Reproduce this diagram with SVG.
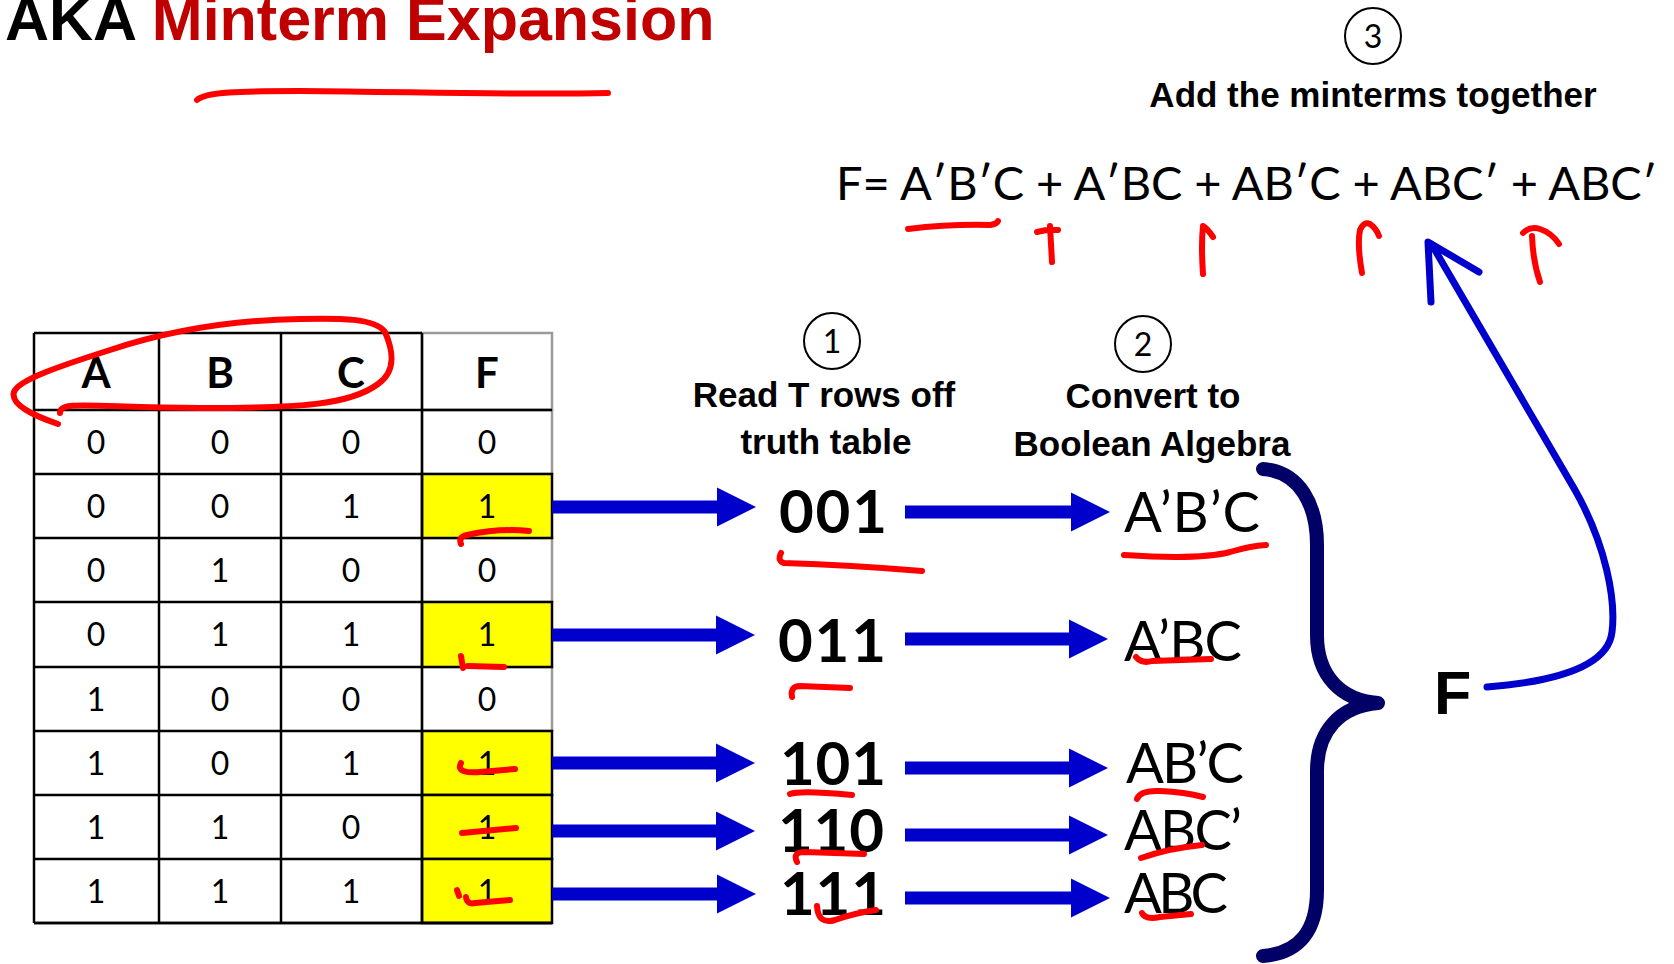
<svg xmlns="http://www.w3.org/2000/svg" width="1674" height="964" viewBox="0 0 1674 964">
  <style>
    .title { font-family: "Liberation Sans", Arial, sans-serif; font-weight: bold; font-size: 61px; }
    .step { font-family: "Liberation Sans", Arial, sans-serif; font-weight: bold; font-size: 35px; fill: #000; text-anchor: middle; }
    .cal { font-family: Lato, "Open Sans", sans-serif; fill: #000; }
    .hdr { font-weight: bold; font-size: 42px; text-anchor: middle; }
    .dig { font-size: 32px; text-anchor: middle; }
    .num { font-weight: bold; font-size: 60px; text-anchor: middle; }
    .term { font-size: 56px; }
    .badge { fill: none; stroke: #000; stroke-width: 2; }
    .badge-t { font-size: 32px; text-anchor: middle; }
    .grid { stroke: #000; stroke-width: 2.5; fill: none; }
    .cell-gray { stroke: #9a9a9a; stroke-width: 2.5; fill: #fff; }
    .cell-on { stroke: #000; stroke-width: 2.5; fill: #ffff00; }
    .arrow { fill: #0000cc; }
    .ink { fill: none; stroke: #ff0000; stroke-linecap: round; stroke-linejoin: round; stroke-width: 6; }
    .loop { fill: none; stroke: #0000cc; stroke-width: 7; stroke-linecap: round; stroke-linejoin: round; }
  </style>

  <rect width="1674" height="964" fill="#fff"/>

  <!-- heading -->
  <g id="title">
    <text class="title" x="5" y="40"><tspan fill="#000">AKA </tspan><tspan fill="#c00000">Minterm Expansion</tspan></text>
  </g>

  <!-- truth table -->
  <g id="truth-table">
    <!-- F column cells -->
    <rect class="cell-gray" x="422" y="333" width="130" height="77"/>
    <rect class="cell-gray" x="422" y="410" width="130" height="64"/>
    <rect class="cell-gray" x="422" y="538" width="130" height="64"/>
    <rect class="cell-gray" x="422" y="667" width="130" height="64"/>
    <rect class="cell-on" x="422" y="474" width="130" height="64"/>
    <rect class="cell-on" x="422" y="602" width="130" height="65"/>
    <rect class="cell-on" x="422" y="731" width="130" height="64"/>
    <rect class="cell-on" x="422" y="795" width="130" height="64"/>
    <rect class="cell-on" x="422" y="859" width="130" height="64"/>
    <!-- input columns grid -->
    <path class="grid" d="M34 333 H422 M34 474 H422 M34 538 H422 M34 602 H422 M34 667 H422 M34 731 H422 M34 795 H422 M34 859 H422 M34 923 H552 M34 333 V923 M159 333 V923 M281 333 V923"/>
    <path class="grid" stroke-width="3" d="M34 923 H552"/>
    <path class="grid" stroke-width="5" d="M34 410 H552 M422 333 V923"/>

    <text class="cal hdr" x="96" y="388">A</text>
    <text class="cal hdr" x="220" y="388">B</text>
    <text class="cal hdr" x="351" y="388">C</text>
    <text class="cal hdr" x="487" y="388">F</text>

    <g class="cal dig">
      <text x="96" y="453.5">0</text><text x="220" y="453.5">0</text><text x="351" y="453.5">0</text><text x="487" y="453.5">0</text>
      <text x="96" y="517.5">0</text><text x="220" y="517.5">0</text><text x="351" y="517.5">1</text><text x="487" y="517.5">1</text>
      <text x="96" y="581.5">0</text><text x="220" y="581.5">1</text><text x="351" y="581.5">0</text><text x="487" y="581.5">0</text>
      <text x="96" y="646">0</text><text x="220" y="646">1</text><text x="351" y="646">1</text><text x="487" y="646">1</text>
      <text x="96" y="710.5">1</text><text x="220" y="710.5">0</text><text x="351" y="710.5">0</text><text x="487" y="710.5">0</text>
      <text x="96" y="774.5">1</text><text x="220" y="774.5">0</text><text x="351" y="774.5">1</text><text x="487" y="774.5">1</text>
      <text x="96" y="838.5">1</text><text x="220" y="838.5">1</text><text x="351" y="838.5">0</text><text x="487" y="838.5">1</text>
      <text x="96" y="902.5">1</text><text x="220" y="902.5">1</text><text x="351" y="902.5">1</text><text x="487" y="902.5">1</text>
    </g>
  </g>

  <!-- step headings -->
  <g id="step-1">
    <circle class="badge" cx="832" cy="341" r="28"/>
    <text class="cal badge-t" x="832" y="352.5">1</text>
    <text class="step" x="824" y="407">Read T rows off</text>
    <text class="step" x="826" y="454">truth table</text>
  </g>
  <g id="step-2">
    <circle class="badge" cx="1143" cy="344" r="28"/>
    <text class="cal badge-t" x="1143" y="355.5">2</text>
    <text class="step" x="1153" y="408">Convert to</text>
    <text class="step" x="1152" y="456">Boolean Algebra</text>
  </g>
  <g id="step-3">
    <circle class="badge" cx="1373" cy="36" r="28"/>
    <text class="cal badge-t" x="1373" y="47.5">3</text>
    <text class="step" x="1373" y="107" font-size="36.5">Add the minterms together</text>
  </g>

  <!-- binary rows -->
  <g id="row-001"><text class="cal num" x="833" y="533" textLength="108">001</text></g>
  <g id="row-011"><text class="cal num" x="832" y="662" textLength="108">011</text></g>
  <g id="row-101"><text class="cal num" x="833" y="785" textLength="106">101</text></g>
  <g id="row-110"><text class="cal num" x="831" y="852" textLength="106">110</text></g>
  <g id="row-111"><text class="cal num" x="833" y="915" textLength="106">111</text></g>

  <!-- minterms -->
  <g id="term-1"><text class="cal term" x="1124" y="532" textLength="136">A’B’C</text></g>
  <g id="term-2"><text class="cal term" x="1124" y="661" textLength="118">A’BC</text></g>
  <g id="term-3"><text class="cal term" x="1126" y="783" textLength="118">AB’C</text></g>
  <g id="term-4"><text class="cal term" x="1124" y="850" textLength="118">ABC’</text></g>
  <g id="term-5"><text class="cal term" x="1124" y="913" textLength="104">ABC</text></g>

  <!-- grouping brace and result -->
  <g id="brace">
    <path d="M1263 469 C1300 472 1317 505 1317 545 L1317 635 C1317 675 1340 700 1378 703 C1340 706 1317 731 1317 771 L1317 890 C1317 930 1300 953 1263 956" fill="none" stroke="#000066" stroke-width="14" stroke-linecap="round" stroke-linejoin="round"/>
  </g>
  <g id="result-f">
    <text class="title" x="1434" y="714" font-size="74" fill="#000">F</text>
  </g>

  <!-- sum of minterms -->
  <g id="equation">
    <text class="cal" x="836" y="200" font-size="47" textLength="821" lengthAdjust="spacing">F= A′B′C + A′BC + AB′C + ABC′ + ABC′</text>
  </g>

  <!-- connectors -->
  <g id="connectors">
    <path class="arrow" d="M552 500.5 H717 V487.5 L756 507 L717 526.5 V513.5 H552 Z"/>
    <path class="arrow" d="M905 505.5 H1071 V492.5 L1110 512 L1071 531.5 V518.5 H905 Z"/>
    <path class="arrow" d="M552 628.5 H716 V615.5 L755 635 L716 654.5 V641.5 H552 Z"/>
    <path class="arrow" d="M905 632.5 H1069 V619.5 L1108 639 L1069 658.5 V645.5 H905 Z"/>
    <path class="arrow" d="M552 756.5 H716 V743.5 L755 763 L716 782.5 V769.5 H552 Z"/>
    <path class="arrow" d="M905 761.5 H1069 V748.5 L1108 768 L1069 787.5 V774.5 H905 Z"/>
    <path class="arrow" d="M552 824.5 H716 V811.5 L755 831 L716 850.5 V837.5 H552 Z"/>
    <path class="arrow" d="M905 828.5 H1069 V815.5 L1108 835 L1069 854.5 V841.5 H905 Z"/>
    <path class="arrow" d="M552 887.5 H717 V874.5 L756 894 L717 913.5 V900.5 H552 Z"/>
    <path class="arrow" d="M905 891.5 H1071 V878.5 L1110 898 L1071 917.5 V904.5 H905 Z"/>
    <!-- F back up to the equation -->
    <path class="loop" d="M1487 687 C1550 682 1608 668 1612 632 C1616 600 1606 545 1575 490 L1432 245"/>
    <path class="loop" stroke-width="9" d="M1431 302 L1428 242 L1479 272"/>
  </g>

  <!-- red pen marks -->
  <g id="pen-marks">
    <path class="ink" d="M197 100 C205 92 240 91 300 91 C420 92 520 95 608 93" stroke-width="4"/>
    <path class="ink" d="M58 424 C35 416 10 405 14 392 C18 380 60 366 110 350 C170 330 230 320 300 319 C340 318 375 318 385 332 C392 348 398 370 378 384 C350 405 300 408 200 408 C130 408 90 404 70 406 C62 407 60 410 60 413"/>
    <path class="ink" d="M461 544 Q458 537 467 535 Q500 528 529 531"/>
    <path class="ink" d="M461 656 L463 668 M468 666 L504 667" stroke-width="7"/>
    <path class="ink" d="M461 763 C456 772 468 773 480 772 L515 769"/>
    <path class="ink" d="M462 833 L516 828"/>
    <path class="ink" d="M457 890 L459 896 M466 897 Q467 905 475 903 L510 900"/>
    <path class="ink" d="M781 553 Q777 561 784 563 Q850 565 922 571"/>
    <path class="ink" d="M1124 555 Q1200 560 1230 552 Q1250 546 1266 545" stroke-width="7"/>
    <path class="ink" d="M792 697 Q790 686 800 686 L850 688"/>
    <path class="ink" d="M1136 657 Q1142 664 1152 661 L1211 659" stroke-width="7"/>
    <path class="ink" d="M790 794 Q800 790 852 795" stroke-width="7"/>
    <path class="ink" d="M1137 799 Q1140 790 1160 791 Q1185 792 1203 797"/>
    <path class="ink" d="M797 862 Q792 852 805 852 L864 854" stroke-width="7"/>
    <path class="ink" d="M1141 858 Q1170 848 1202 845"/>
    <path class="ink" d="M817 906 Q818 925 835 920 Q855 913 876 910" stroke-width="7"/>
    <path class="ink" d="M1142 913 Q1145 920 1160 917 L1191 914"/>
    <!-- under the equation -->
    <path class="ink" d="M908 229 Q950 224 990 225 Q997 224 998 221" stroke-width="5"/>
    <path class="ink" d="M1052 262 L1050 226 M1037 232 Q1048 229 1058 230" stroke-width="4"/>
    <path class="ink" d="M1203 274 Q1201 245 1203 226 Q1207 228 1213 237" stroke-width="4"/>
    <path class="ink" d="M1362 273 Q1357 245 1360 230 Q1364 221 1370 224 Q1376 228 1379 236" stroke-width="4"/>
    <path class="ink" d="M1523 233 Q1530 226 1540 229 Q1552 233 1559 244 M1532 236 Q1533 262 1540 282" stroke-width="4"/>
  </g>
</svg>
